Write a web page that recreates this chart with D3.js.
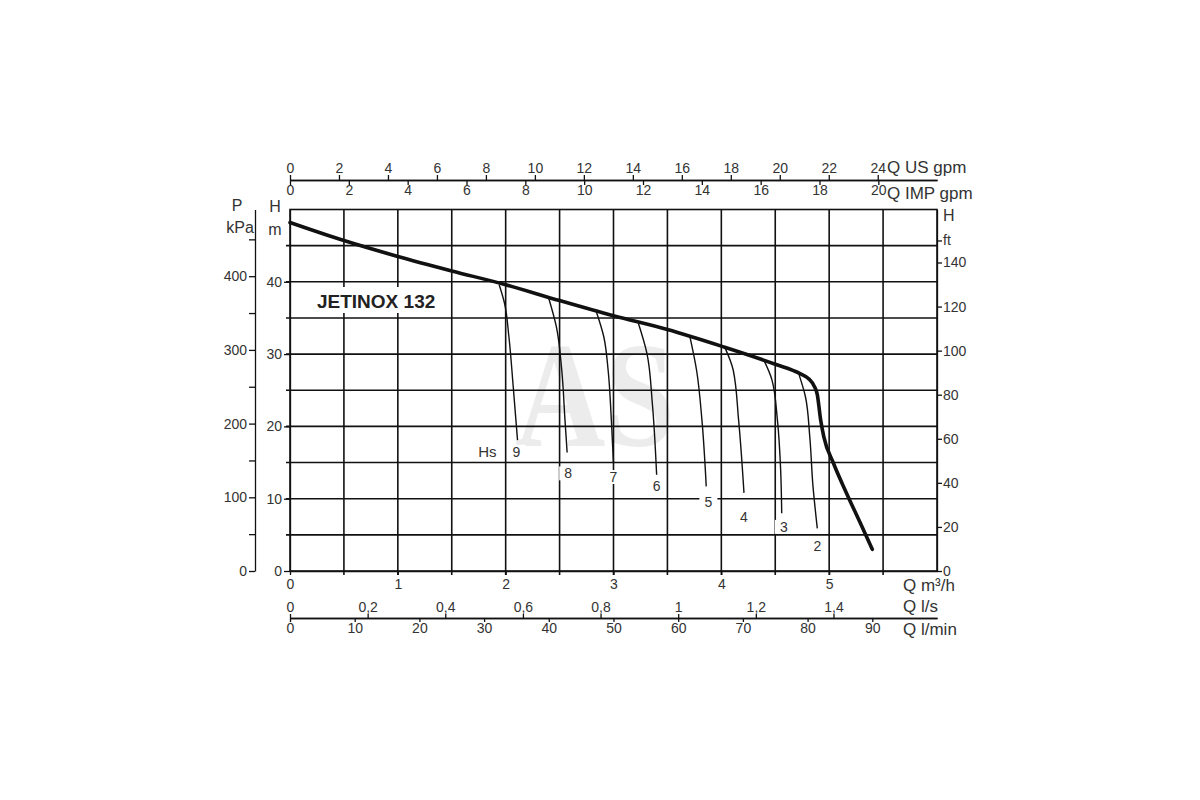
<!DOCTYPE html>
<html>
<head>
<meta charset="utf-8">
<script src="https://cdn.jsdelivr.net/npm/d3@7"></script>
<style>
body { margin: 0; background: #fff; }
text { font-family: "Liberation Sans", Arial, sans-serif; fill: #333; }
</style>
</head>
<body>
<div class="chart"></div>
<script>
// JETINOX 132 - pump curve H(Q)
// main curve, Q in m3/h, H in m
const mainQ = [0, 0.5, 1.0, 1.5, 2.0, 2.5, 3.0, 3.5, 4.0, 4.5, 4.73, 4.81, 4.86, 4.89, 4.92, 4.95, 5.04, 5.16, 5.29, 5.40];
const mainH = [48.2, 45.7, 43.5, 41.5, 39.6, 37.4, 35.3, 33.4, 31.1, 28.6, 27.3, 26.6, 25.6, 24.4, 21.0, 18.6, 14.9, 10.8, 6.6, 3.0];

// suction lift curves (Hs = 9 .. 2 m)
const hsCurves = [
	{hs: 9, q: [1.94, 1.99, 2.03, 2.07, 2.11], h: [39.6, 37.0, 32.4, 25.5, 18.1]},
	{hs: 8, q: [2.40, 2.47, 2.52, 2.55, 2.57], h: [37.7, 33.8, 27.8, 20.9, 16.4]},
	{hs: 7, q: [2.84, 2.91, 2.95, 2.98, 3.00], h: [35.9, 32.4, 27.8, 20.9, 14.9]},
	{hs: 6, q: [3.23, 3.31, 3.36, 3.40], h: [34.3, 30.1, 23.2, 13.3]},
	{hs: 5, q: [3.71, 3.77, 3.82, 3.86], h: [32.3, 27.8, 20.9, 11.7]},
	{hs: 4, q: [4.03, 4.11, 4.16, 4.21], h: [31.0, 27.8, 20.9, 10.8]},
	{hs: 3, q: [4.39, 4.47, 4.52, 4.55, 4.56], h: [29.3, 26.4, 20.9, 14.0, 8.0]},
	{hs: 2, q: [4.72, 4.78, 4.82, 4.85, 4.89], h: [27.2, 24.1, 18.6, 11.7, 5.9]}
];
// where the Hs numbers sit
const hsLabelQ = [2.10, 2.58, 3.00, 3.40, 3.88, 4.21, 4.58, 4.89];
const hsLabelH = [16.5, 13.5, 13.0, 11.7, 9.6, 7.5, 6.1, 3.4];

// tick labels
const hTicks = [0, 10, 20, 30, 40];
const pTicks = [0, 50, 100, 150, 200, 250, 300, 350, 400, 450];
const ftTicks = [0, 20, 40, 60, 80, 100, 120, 140, 150];
const usTicks = [0, 2, 4, 6, 8, 10, 12, 14, 16, 18, 20, 22, 24];
const impTicks = [0, 2, 4, 6, 8, 10, 12, 14, 16, 18, 20];
const m3Ticks = [0, 1, 2, 3, 4, 5];
const lsTicks = [0, 0.2, 0.4, 0.6, 0.8, 1, 1.2, 1.4];
const lminTicks = [0, 10, 20, 30, 40, 50, 60, 70, 80, 90];
const gridQ = [0.5, 1, 1.5, 2, 2.5, 3, 3.5, 4, 4.5, 5, 5.5];
const gridH = [5, 10, 15, 20, 25, 30, 35, 40, 45];

const margin = {top: 209.5, left: 290};
const width = 647;
const height = 361.5;

const svg = d3.select('.chart')
	.append('svg')
		.attr('width', 1200)
		.attr('height', 800)
	.append('g')
		.attr('transform', `translate(${margin.left}, ${margin.top})`);

const x = d3.scaleLinear().domain([0, 6]).range([0, width]);
const y = d3.scaleLinear().domain([0, 50]).range([height, 0]);
// secondary units
const yP = d3.scaleLinear().domain([0, 50 * 9.81]).range([height, 0]);
const yFt = d3.scaleLinear().domain([0, 50 * 3.281]).range([height, 0]);
const xUS = d3.scaleLinear().domain([0, 6 / 0.2271]).range([0, width]);
const xIMP = d3.scaleLinear().domain([0, 6 / 0.2728]).range([0, width]);
const xLs = d3.scaleLinear().domain([0, 6 / 3.6]).range([0, width]);
const xLmin = d3.scaleLinear().domain([0, 6 / 0.06]).range([0, width]);

const ink = '#111';
const comma = d => String(d).replace('.', ',');

// watermark
svg.append('text')
	.attr('x', 305)
	.attr('y', 236)
	.attr('text-anchor', 'middle')
	.attr('textLength', 160)
	.attr('lengthAdjust', 'spacingAndGlyphs')
	.style('font-family', '"Liberation Serif", serif')
	.style('font-size', '150px')
	.style('font-weight', 'bold')
	.style('fill', '#ececec')
	.text('AS');

// grid
svg.selectAll('.vgrid')
	.data(gridQ)
	.enter()
	.append('line')
	.attr('x1', d => x(d)).attr('x2', d => x(d))
	.attr('y1', 0).attr('y2', height + 4)
	.attr('stroke', ink).attr('stroke-width', 1.6);

svg.selectAll('.hgrid')
	.data(gridH)
	.enter()
	.append('line')
	.attr('x1', -4).attr('x2', width)
	.attr('y1', d => y(d)).attr('y2', d => y(d))
	.attr('stroke', ink).attr('stroke-width', 1.6);

svg.append('rect')
	.attr('width', width).attr('height', height)
	.attr('fill', 'none')
	.attr('stroke', ink).attr('stroke-width', 1.6);

// model name, on a white patch like the original
svg.append('rect')
	.attr('x', 22).attr('y', 77.5)
	.attr('width', 128).attr('height', 26)
	.attr('fill', '#fff');
svg.append('text')
	.attr('x', 27).attr('y', 98.5)
	.style('font-size', '19px')
	.style('font-weight', 'bold')
	.style('fill', '#222')
	.text('JETINOX 132');

// Hs curves
const hsLine = d3.line()
	.x(d => x(d[0]))
	.y(d => y(d[1]))
	.curve(d3.curveMonotoneY);

svg.selectAll('.hs')
	.data(hsCurves)
	.enter()
	.append('path')
	.attr('d', d => hsLine(d.q.map((q, i) => [q, d.h[i]])))
	.attr('fill', 'none')
	.attr('stroke', ink)
	.attr('stroke-width', 1.4);

const labels = svg.selectAll('.hslabel')
	.data(hsCurves)
	.enter()
	.append('g')
	.attr('transform', (d, i) => `translate(${x(hsLabelQ[i])}, ${y(hsLabelH[i])})`);
labels.append('rect')
	.attr('x', -9).attr('y', -7)
	.attr('width', 18).attr('height', 14)
	.attr('fill', '#fff');
labels.append('text')
	.attr('text-anchor', 'middle')
	.attr('dy', '0.36em')
	.style('font-size', '14px')
	.text(d => d.hs);

svg.append('text')
	.attr('x', x(hsLabelQ[0]) - 29)
	.attr('y', y(hsLabelH[0]))
	.attr('dy', '0.36em')
	.attr('text-anchor', 'middle')
	.style('font-size', '15px')
	.text('Hs');

// main curve
const mainLine = d3.line()
	.x(d => x(d[0]))
	.y(d => y(d[1]))
	.curve(d3.curveMonotoneX);

svg.append('path')
	.attr('d', mainLine(mainQ.map((q, i) => [q, mainH[i]])))
	.attr('fill', 'none')
	.attr('stroke', ink)
	.attr('stroke-width', 3.6)
	.attr('stroke-linecap', 'round');

// axes
function styleAxis(g) {
	g.attr('font-size', null).attr('font-family', null);
	g.selectAll('text').style('font-size', '14px');
	g.selectAll('line, path').attr('stroke', ink).attr('stroke-width', 1.3);
}

svg.append('g')
	.call(d3.axisLeft(y).tickValues(hTicks).tickSize(6).tickPadding(2).tickSizeOuter(0))
	.call(styleAxis);

svg.append('g')
	.attr('transform', 'translate(-35, 0)')
	.call(d3.axisLeft(yP).tickValues(pTicks)
		.tickFormat(d => d % 100 === 0 ? d : '')
		.tickSize(6).tickPadding(2).tickSizeOuter(0))
	.call(styleAxis);

svg.append('g')
	.attr('transform', `translate(${width}, 0)`)
	.call(d3.axisRight(yFt).tickValues(ftTicks)
		.tickFormat(d => d === 150 ? 'ft' : d)
		.tickSize(5).tickPadding(1).tickSizeOuter(0))
	.call(styleAxis);

svg.append('g')
	.attr('transform', 'translate(0, -29.5)')
	.call(d3.axisTop(xUS).tickValues(usTicks).tickSize(5).tickPadding(2).tickSizeOuter(0))
	.call(styleAxis);

svg.append('g')
	.attr('transform', 'translate(0, -29.5)')
	.call(d3.axisBottom(xIMP).tickValues(impTicks).tickSize(5).tickPadding(0).tickSizeOuter(0))
	.call(styleAxis);

svg.append('g')
	.attr('transform', `translate(0, ${height})`)
	.call(d3.axisBottom(x).tickValues(m3Ticks).tickFormat(d => d)
		.tickSize(4).tickPadding(4).tickSizeOuter(0))
	.call(styleAxis);

svg.append('g')
	.attr('transform', 'translate(0, 408.5)')
	.call(d3.axisTop(xLs).tickValues(lsTicks).tickFormat(comma).tickSize(4).tickPadding(2).tickSizeOuter(0))
	.call(styleAxis);

svg.append('g')
	.attr('transform', 'translate(0, 408.5)')
	.call(d3.axisBottom(xLmin).tickValues(lminTicks).tickSize(4).tickPadding(1).tickSizeOuter(0))
	.call(styleAxis);

// unit labels
const units = [
	{t: 'Q US gpm', x: 597, y: -42.5, a: 'start'},
	{t: 'Q IMP gpm', x: 597, y: -16.5, a: 'start'},
	{t: 'Q m³/h', x: 613, y: 375.5, a: 'start'},
	{t: 'Q l/s', x: 613, y: 396.5, a: 'start'},
	{t: 'Q l/min', x: 613, y: 419.5, a: 'start'},
	{t: 'H', x: width + 6, y: 5.5, a: 'start'},
	{t: 'P', x: -53, y: -4.5, a: 'middle'},
	{t: 'kPa', x: -50, y: 17.5, a: 'middle'},
	{t: 'H', x: -15, y: -3.5, a: 'middle'},
	{t: 'm', x: -15, y: 19.5, a: 'middle'}
];
svg.selectAll('.unit')
	.data(units)
	.enter()
	.append('text')
	.attr('x', d => d.x)
	.attr('y', d => d.y)
	.attr('dy', '0.36em')
	.attr('text-anchor', d => d.a)
	.style('font-size', d => d.t.startsWith('Q') ? '17px' : '16px')
	.text(d => d.t);
</script>
</body>
</html>
